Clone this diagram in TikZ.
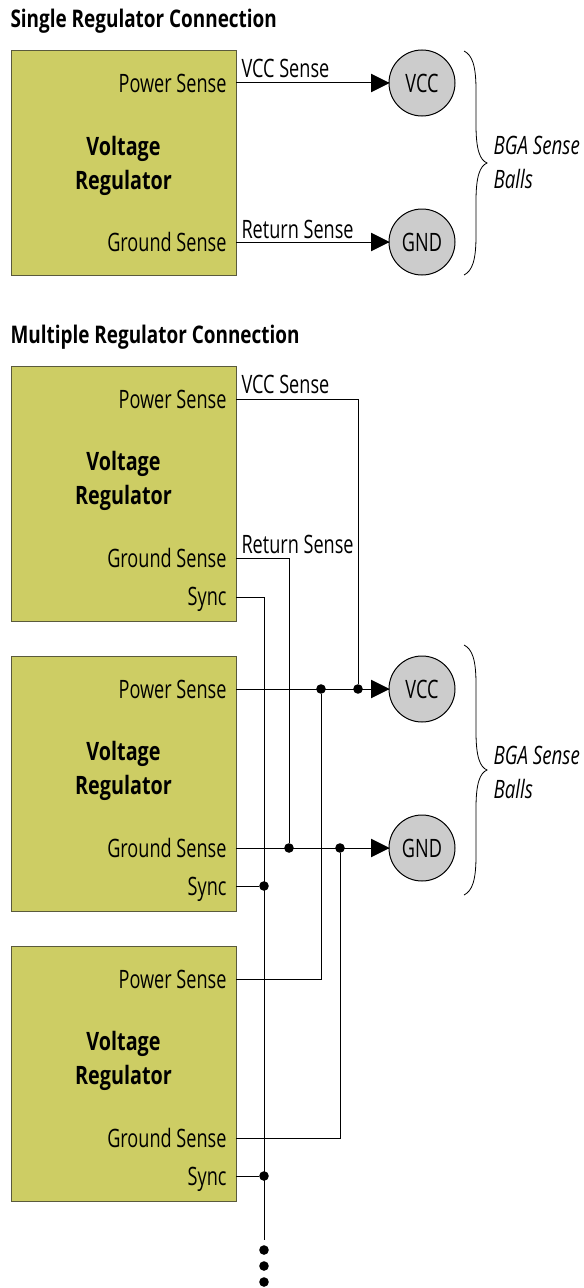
\documentclass[tikz,border=0pt]{standalone}
\usepackage{fontspec}
\setmainfont[FakeStretch=0.715,BoldFeatures={FakeStretch=0.78},ItalicFeatures={FakeStretch=0.74}]{Open Sans}

\definecolor{regfill}{RGB}{205,205,100}
\definecolor{ballfill}{RGB}{204,204,204}

\tikzset{every picture/.style={line width=0.75pt}}
\tikzset{
  regbox/.style={draw={rgb, 255:red, 90; green, 90; blue, 60},fill=regfill,minimum width=168.75pt,inner sep=0pt},
  regtext/.style={inner sep=0pt,align=center,font=\fontsize{19}{25.5}\selectfont\bfseries},
  senselabel/.style={anchor=base east,inner sep=0pt,font=\fontsize{19}{25}\selectfont},
  wirelabel/.style={anchor=base west,inner sep=0pt,font=\fontsize{19}{25}\selectfont},
  titlelabel/.style={anchor=base west,inner sep=0pt,font=\fontsize{18.2}{25}\selectfont\bfseries},
  ball/.style={draw,circle,fill=ballfill,minimum size=49.5pt,inner sep=0pt,font=\fontsize{19}{25}\selectfont},
  jct/.style={circle,fill=black,minimum size=7.2pt,inner sep=0pt},
  ballslabel/.style={anchor=base west,inner sep=0pt,font=\fontsize{19}{25}\selectfont\itshape}
}

\begin{document}
\begin{tikzpicture}[x=0.75pt,y=0.75pt,yscale=-1,xscale=1]
            \useasboundingbox (0,0) rectangle (584,1288);

            % Single regulator
            \node (titleSingle) [titlelabel] at (10,28) {Single Regulator Connection};
            \node (regS) [regbox,minimum height=168pt] at (123.5,163) {};
            \node (regStext) [regtext] at (123.5,166) {Voltage\\Regulator};
            \node (pwrS) [senselabel] at (227,93) {Power Sense};
            \node (gndS) [senselabel] at (227,251) {Ground Sense};
            \coordinate (pwrSport) at (236,83);
            \coordinate (gndSport) at (236,242);
            \node (vccS) [ball] at (422,83) {VCC};
            \node (ballS) [ball] at (422,242) {GND};
            \node (vccSenseS) [wirelabel] at (241,78) {VCC Sense};
            \node (retSenseS) [wirelabel] at (241,238) {Return Sense};

            %Straight Lines
            \draw (pwrSport) -- (vccS);
            \draw [shift={(vccS.west)}, rotate = 180] [fill=black] (17,-8.5) -- (0,0) -- (17,8.5) -- cycle;
            %Straight Lines
            \draw (gndSport) -- (ballS);
            \draw [shift={(ballS.west)}, rotate = 180] [fill=black] (17,-8.5) -- (0,0) -- (17,8.5) -- cycle;

            %Curve Lines
            \draw [line width=0.6pt] (464,51) .. controls (472,55) and (476,65) .. (476,90) -- (476,125) .. controls (476,150) and (480,160) .. (487,163) .. controls (480,166) and (476,176) .. (476,201) -- (476,236) .. controls (476,261) and (472,271) .. (464,275);

            \node (bgaS) [ballslabel] at (493,154) {BGA Sense};
            \node (ballsS) [ballslabel] at (493,188) {Balls};

            % Multiple regulators
            \node (titleMulti) [titlelabel] at (10,343) {Multiple Regulator Connection};
            \node (regA) [regbox,minimum height=191.25pt] at (123.5,493.5) {};
            \node (regB) [regbox,minimum height=191.25pt] at (123.5,783.5) {};
            \node (regC) [regbox,minimum height=191.25pt] at (123.5,1073.5) {};
            \node (regAtext) [regtext] at (123.5,481) {Voltage\\Regulator};
            \node (regBtext) [regtext] at (123.5,771) {Voltage\\Regulator};
            \node (regCtext) [regtext] at (123.5,1061) {Voltage\\Regulator};

            \node (pwrA) [senselabel] at (227,408) {Power Sense};
            \node (gndA) [senselabel] at (227,567) {Ground Sense};
            \node (syncA) [senselabel] at (227,605) {Sync};
            \node (pwrB) [senselabel] at (227,698) {Power Sense};
            \node (gndB) [senselabel] at (227,857) {Ground Sense};
            \node (syncB) [senselabel] at (227,895) {Sync};
            \node (pwrC) [senselabel] at (227,988) {Power Sense};
            \node (gndC) [senselabel] at (227,1147) {Ground Sense};
            \node (syncC) [senselabel] at (227,1185) {Sync};

            \coordinate (pwrAport) at (236,399);
            \coordinate (gndAport) at (236,558);
            \coordinate (syncAport) at (236,597);
            \coordinate (pwrBport) at (236,689);
            \coordinate (gndBport) at (236,848);
            \coordinate (syncBport) at (236,886);
            \coordinate (pwrCport) at (236,979);
            \coordinate (gndCport) at (236,1138);
            \coordinate (syncCport) at (236,1176);
            \coordinate (syncEnd) at (264,1240);

            \node (vccM) [ball] at (422,689) {VCC};
            \node (ballM) [ball] at (422,848) {GND};

            \node (jctSyncB) [jct] at (264,886) {};
            \node (jctSyncC) [jct] at (264,1176) {};
            \node (jctPwrC) [jct] at (321,689) {};
            \node (jctPwrA) [jct] at (358,689) {};
            \node (jctGndA) [jct] at (289,848) {};
            \node (jctGndC) [jct] at (340,848) {};
            \node (dotA) [jct] at (264,1250) {};
            \node (dotB) [jct] at (264,1266) {};
            \node (dotC) [jct] at (264,1282) {};

            \node (vccSenseM) [wirelabel] at (241,393) {VCC Sense};
            \node (retSenseM) [wirelabel] at (241,553) {Return Sense};

            %Straight Lines
            \draw (pwrBport) -- (vccM);
            \draw [shift={(vccM.west)}, rotate = 180] [fill=black] (17,-8.5) -- (0,0) -- (17,8.5) -- cycle;
            %Straight Lines
            \draw (gndBport) -- (ballM);
            \draw [shift={(ballM.west)}, rotate = 180] [fill=black] (17,-8.5) -- (0,0) -- (17,8.5) -- cycle;
            %Straight Lines
            \draw (pwrAport) -| (jctPwrA);
            \draw (gndAport) -| (jctGndA);
            \draw (syncAport) -| (syncEnd);
            \draw (pwrCport) -| (jctPwrC);
            \draw (gndCport) -| (jctGndC);
            \draw (syncBport) -- (jctSyncB);
            \draw (syncCport) -- (jctSyncC);

            %Curve Lines
            \draw [line width=0.6pt] (464,645) .. controls (472,649) and (476,659) .. (476,684) -- (476,732) .. controls (476,757) and (480,767) .. (487,770) .. controls (480,773) and (476,783) .. (476,808) -- (476,856) .. controls (476,881) and (472,891) .. (464,895);

            \node (bgaM) [ballslabel] at (493,764) {BGA Sense};
            \node (ballsM) [ballslabel] at (493,798) {Balls};

        \end{tikzpicture}
\end{document}
